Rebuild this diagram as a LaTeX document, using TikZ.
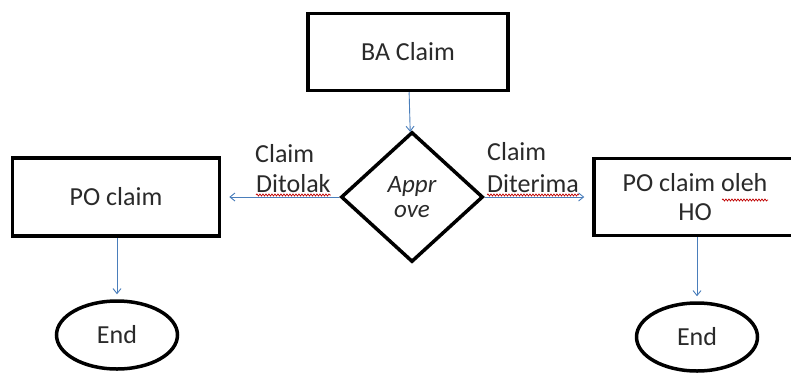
\documentclass[tikz,border=0pt]{standalone}
\usepackage{fontspec}
\setmainfont{Carlito}
\usetikzlibrary{arrows.meta,shapes.geometric,decorations.pathmorphing}

\definecolor{flowblue}{HTML}{4A7EBB}
\definecolor{inkgray}{HTML}{2A2A2A}

\begin{document}
\begin{tikzpicture}[%
        x = 1pt, y = -1pt,
        > = {Straight Barb[length=5pt, width=8pt]},
        font = \fontsize{26}{29}\selectfont,
        text = inkgray,
        process/.style = {draw = black, line width = 3.5pt, minimum width = 207pt,
            minimum height = 78pt, align = center},
        decision/.style = {draw = black, diamond, line width = 3.5pt, minimum width = 142pt,
            minimum height = 130pt, inner sep = 0pt, align = center,
            font = \fontsize{25}{25}\selectfont\itshape},
        terminal/.style = {draw = black, ellipse, line width = 3.5pt, minimum width = 121pt,
            minimum height = 68pt},
        flow/.style = {->, draw = flowblue, line width = 0.9pt},
        edgetext/.style = {inner sep = 0pt, anchor = base west},
        typo/.style = {draw = red!75!black, line width = 0.7pt,
            decorate, decoration = {snake, amplitude = 1pt, segment length = 3pt}}
    ]

        % fix the margins.
        \useasboundingbox (0,0) rectangle (791,372);

        % Boxes of the flow.
        \node[process, minimum width = 200pt, minimum height = 77pt] (ba) at (408,52) {BA Claim};
        \node[decision] (approve) at (412,197) {Appr\\ove};
        \node[process] (pokiri) at (116,197) {PO claim};
        \node[process, minimum width = 202pt, minimum height = 77pt] (poho) at (695,197) {PO claim oleh\\HO};
        \node[terminal] (endkiri) at (117,335) {End};
        \node[terminal] (endkanan) at (697,337) {End};

        % Connectors.
        \draw[flow] (ba) -- (approve);
        \draw[flow, shorten > = 8pt] (approve) -- (pokiri);
        \draw[flow, shorten > = 8pt] (approve) -- (poho);
        \draw[flow, shorten > = 5pt] (pokiri.south -| endkiri.north) -- (endkiri.north);
        \draw[flow, shorten > = 5pt] (poho.south -| endkanan.north) -- (endkanan.north);

        % Labels on the branches.
        \node[edgetext] (claimkiri) at (255,162) {Claim};
        \node[edgetext] (tolak) at (256,192) {Ditolak};
        \node[edgetext] (claimkanan) at (487,160) {Claim};
        \node[edgetext] (terima) at (487,192) {Diterima};

        % Spell-check marks.
        \draw[typo] ([yshift = -3pt] tolak.base west) -- ([yshift = -3pt] tolak.base east);
        \draw[typo] ([yshift = -3pt] terima.base west) -- ([yshift = -3pt] terima.base east);
        \draw[typo] (722,200) -- (768,200);
    \end{tikzpicture}
\end{document}
